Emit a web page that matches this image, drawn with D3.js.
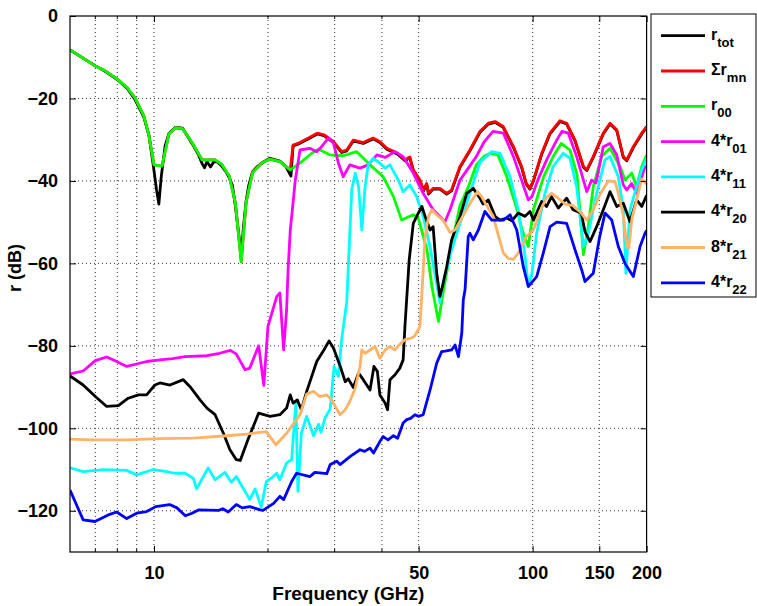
<!DOCTYPE html>
<html>
<head>
<meta charset="utf-8">
<script src="https://d3js.org/d3.v7.min.js"></script>
<style>
  body { margin: 0; background: #fff; }
  svg text { font-family: "Liberation Sans", Arial, Helvetica, sans-serif; font-weight: bold; fill: #000; }
</style>
</head>
<body>
<script>

// Axis ticks and grid positions (GHz / dB)
const freqTicks = [10, 50, 100, 150, 200];
const minorFreqs = [7, 8, 9, 20, 30, 40];
const gridFreqs = [7, 8, 9, 10, 20, 30, 40, 50, 100, 150];
const dbTicks = [0, -20, -40, -60, -80, -100, -120];

// Legend labels: main text + subscript
const labelMain = ["r", "\u03A3r", "r", "4*r", "4*r", "4*r", "8*r", "4*r"];
const labelSub  = ["tot", "mn", "00", "01", "11", "20", "21", "22"];
const colours   = ["#000000", "#ff0000", "#00ff00", "#ff00ff", "#00ffff", "#000000", "#ffb366", "#0000ff"];

// Series values: [frequency (GHz), r (dB)]
const rTot = [[6.0,-8.2],[7.0,-12.1],[7.43,-13.4],[8.0,-15.4],[8.5,-17.6],[8.9,-20.2],[9.4,-24.5],[9.7,-29],[9.95,-36],[10.15,-42],[10.3,-45.6],[10.45,-39],[10.7,-31.5],[10.95,-28.5],[11.4,-27],[11.9,-27.2],[12.6,-30.9],[13.1,-33.6],[13.4,-35.8],[13.6,-36.8],[13.8,-35.3],[14.1,-36.6],[14.4,-35.3],[14.7,-35.4],[15.1,-36.4],[15.5,-37.8],[15.8,-39.2],[16.1,-41],[16.4,-46],[16.8,-54],[17.0,-58.5],[17.2,-52],[17.5,-45],[17.8,-41],[18.2,-37.8],[18.7,-36.6],[19.3,-35.6],[20.25,-34.5],[21.5,-35.2],[22.3,-36.5],[23.0,-38.8],[23.3,-31.5],[24.0,-31.1],[25.6,-29.8],[27.0,-28.6],[28.1,-29],[29.8,-30.7],[31.3,-33.1],[32.3,-32.7],[33.6,-30.3],[35.7,-30.9],[37.9,-29.8],[39.5,-30.7],[41.2,-32.3],[44.0,-33.5],[46.0,-35.1],[47.4,-34.4],[48.4,-37.5],[50.4,-40],[51.5,-42.4],[52.5,-40.8],[53.1,-43.2],[54.6,-42],[56.9,-42],[59.3,-43.2],[61.1,-42.4],[64.3,-36.7],[68.3,-32.7],[72.6,-28.2],[76.4,-26.2],[79.6,-25.8],[83.6,-27],[89.0,-31.9],[93.5,-36.7],[96.2,-40.8],[98.4,-42],[100.5,-40],[105.7,-33.5],[111.1,-28.6],[118.1,-25.6],[123,-26.2],[129.4,-30.3],[136.2,-36.7],[139.0,-37.5],[144.6,-34.3],[153.7,-28.6],[160.1,-26.2],[166.8,-27.8],[173.6,-34.3],[177.3,-35.1],[184.5,-31.9],[194.2,-28.6],[200,-27]];

const sigmaR = [[6.0,-8.2],[7.0,-12.1],[7.43,-13.3],[8.0,-15.3],[8.5,-17.4],[8.9,-19.8],[9.4,-24.2],[9.7,-29.1],[10.0,-36.1],[10.5,-36.4],[10.95,-28.6],[11.4,-27.1],[11.9,-27.3],[12.6,-30.7],[13.4,-34.9],[14.5,-34.9],[15.1,-36.0],[15.8,-38.8],[16.4,-45.3],[17.0,-59.6],[17.5,-45.3],[18.2,-38.0],[19.3,-35.6],[20.25,-34.7],[21.5,-35.3],[22.9,-37.3],[23.3,-31.3],[24.0,-30.9],[25.6,-29.6],[27.0,-28.4],[28.1,-28.8],[29.8,-30.5],[31.3,-32.9],[32.3,-32.5],[33.6,-30.1],[35.7,-30.7],[37.9,-29.6],[39.5,-30.5],[41.2,-32.1],[44.0,-33.3],[46.0,-34.9],[47.4,-34.2],[48.4,-37.3],[50.4,-39.8],[51.5,-42.2],[52.5,-40.6],[53.1,-43.0],[54.6,-41.8],[56.9,-41.8],[59.3,-43.0],[61.1,-42.2],[64.3,-36.5],[68.3,-32.5],[72.6,-28.0],[76.4,-26.0],[79.6,-25.6],[83.6,-26.8],[89.0,-31.7],[93.5,-36.5],[96.2,-40.6],[98.4,-41.8],[100.5,-39.8],[105.7,-33.3],[111.1,-28.4],[118.1,-25.4],[123,-26.0],[129.4,-30.1],[136.2,-36.5],[139.0,-37.3],[144.6,-34.1],[153.7,-28.4],[160.1,-26.0],[166.8,-27.6],[173.6,-34.1],[177.3,-34.9],[184.5,-31.7],[194.2,-28.4],[200,-26.8]];

const r00 = [[6.0,-8.2],[7.0,-12.1],[7.43,-13.3],[8.0,-15.3],[8.5,-17.4],[8.9,-19.8],[9.4,-24.2],[9.7,-29.1],[10.0,-36.1],[10.5,-36.4],[10.95,-28.6],[11.4,-27.1],[11.9,-27.3],[12.6,-30.7],[13.4,-34.9],[14.5,-34.9],[15.1,-36.0],[15.8,-38.8],[16.4,-45.3],[17.0,-59.6],[17.5,-45.3],[18.2,-38.0],[19.3,-35.6],[20.25,-34.7],[21.5,-35.3],[22.9,-37.3],[24.3,-35.7],[26.1,-33.3],[27.2,-32.3],[29.2,-33.7],[31.6,-33.9],[34.3,-32.9],[37.2,-36.1],[40.3,-39.0],[42.9,-43.8],[45.1,-49.5],[48.4,-48.2],[49.9,-49.0],[52.6,-56.7],[54.2,-65.6],[56.4,-74.1],[58.0,-67.2],[61.1,-55.5],[64.3,-46],[67.6,-41.5],[71.0,-36.1],[74.5,-34],[77.2,-33.3],[81,-33.7],[85.5,-39],[91.0,-47],[93.8,-51.9],[97.4,-55.9],[100.5,-47],[106.9,-39],[113.3,-34.1],[119,-30.9],[125.5,-32.5],[131,-38.5],[136.2,-57.9],[140.3,-51.1],[144.6,-41.4],[152.1,-34.1],[160.1,-32.1],[170.2,-36.5],[175.4,-39.8],[182.6,-38.1],[188.2,-41.4],[194.2,-36.5],[200,-33.7]];

const r01 = [[6.0,-86.8],[6.5,-86.1],[7.0,-83.6],[7.5,-82.7],[7.97,-83.8],[8.47,-85],[9.0,-84.4],[9.56,-83.8],[10.37,-83.4],[11.2,-83.1],[12.07,-82.6],[13.8,-82.4],[14.9,-81.8],[15.9,-81.1],[16.5,-82],[17.4,-85.8],[17.9,-85.4],[18.9,-80],[19.5,-89.6],[20.0,-75.3],[21.1,-68],[21.5,-67.2],[22.0,-81],[22.4,-71.3],[22.6,-61.6],[22.9,-52],[23.1,-48.7],[23.6,-40],[24.3,-32.5],[25.8,-32.1],[26.9,-32.9],[27.7,-31.7],[28.9,-29.6],[29.8,-30.9],[30.7,-35.7],[31.6,-39],[32.9,-36.1],[35,-36.9],[36.8,-36.1],[38.8,-33.7],[40.8,-34.3],[43.3,-32.9],[45.5,-34.1],[48.4,-38.1],[51.4,-43],[54.6,-47],[58.7,-49.9],[60.5,-47],[64.3,-39.8],[71,-34.1],[74.5,-30.5],[78.6,-28],[83.7,-28.4],[89,-34.1],[93.5,-39.8],[97.4,-44.6],[99.6,-43.8],[103.2,-39.8],[108.9,-34.9],[115.8,-30.1],[119.5,-28],[124.2,-28.4],[130.7,-34.1],[136.2,-39.8],[139,-42.6],[143.2,-39.8],[147,-40.5],[153.7,-31.7],[160.1,-30.9],[166.8,-33.7],[173.6,-41],[177.3,-42.2],[182.6,-40.6],[188.2,-43],[194.2,-39],[198.1,-36.5],[200,-37]];

const r11 = [[6.0,-109.6],[6.5,-110.5],[7.35,-110],[8.47,-110.2],[9.0,-111.3],[9.96,-110],[10.8,-110.5],[11.36,-110.9],[12.07,-110.9],[12.7,-112.1],[12.96,-114.7],[13.9,-109.6],[14.5,-112.5],[15.4,-110.7],[16.0,-113.1],[16.5,-111.7],[17.9,-117.3],[18.5,-114.7],[19.2,-119.1],[19.8,-112.9],[20.4,-112.1],[21.1,-110.9],[21.5,-112.5],[22.4,-108.4],[23.1,-107.6],[23.3,-102.8],[23.7,-93.9],[24.0,-115.3],[24.5,-101.2],[25.3,-97.1],[26.4,-101.8],[27.2,-99],[27.6,-101],[28.3,-97.5],[29.2,-95.3],[29.9,-85],[30.7,-87.4],[31.3,-78.5],[32.3,-69.2],[32.6,-60.8],[33.3,-42],[34.0,-38.1],[34.7,-41.4],[35.4,-51.9],[36.1,-41.4],[36.8,-36.1],[37.9,-34.5],[39.5,-35.7],[40.8,-36.9],[42,-36.1],[44.2,-39.8],[45.5,-42.6],[47.4,-41],[49.4,-43.8],[51.4,-48.6],[53.6,-56],[55.8,-65],[56.9,-69.5],[58.0,-64.8],[61.1,-56.7],[64.3,-50.3],[68.3,-43],[72.6,-35.5],[78,-32.9],[82,-33.3],[87.2,-39],[91.6,-47],[95.5,-58.3],[97.4,-65.6],[99.6,-62.4],[102.5,-52.7],[107.8,-43],[113.3,-36.5],[120.4,-33.3],[125.5,-34.5],[130.7,-41.4],[136.2,-55.9],[140.3,-52.7],[147.6,-43],[155.3,-34.9],[160.1,-34.1],[168.4,-39],[173.6,-47],[176.4,-62.4],[180.8,-47],[188.2,-41.4],[194.2,-37.3],[200,-34.5]];

const r20 = [[6.0,-87.3],[6.5,-89.5],[7.0,-92.3],[7.5,-94.7],[8.05,-94.5],[8.55,-92.7],[9.1,-91.9],[9.56,-91.9],[10.06,-89.5],[10.37,-89],[11.02,-89.5],[11.95,-88.2],[12.45,-89.9],[13.23,-93.1],[13.8,-95.1],[14.5,-96.7],[15.25,-101.2],[15.87,-105.2],[16.5,-107.6],[16.9,-107.8],[17.7,-102.8],[18.9,-96.3],[20.25,-97.1],[21.5,-96.7],[22.4,-95.1],[22.9,-91.9],[23.3,-93.9],[23.9,-93.1],[24.5,-95.5],[25.3,-91.1],[26.9,-83.8],[28.1,-81],[29.0,-78.8],[29.8,-80.6],[31,-84.8],[32,-88.7],[32.6,-88],[33.6,-90.1],[34.7,-86.6],[35.7,-88.2],[37.2,-90.7],[38.1,-85],[38.9,-86.2],[39.5,-91.9],[40.8,-93.9],[41.4,-95.5],[42,-88.2],[43.3,-87],[44.6,-85.4],[45.5,-83.4],[46,-75.3],[47.2,-59.2],[48.4,-50.3],[49.9,-47.8],[51,-46.2],[52,-48.6],[53.6,-51.9],[54.6,-51.1],[55.8,-62.4],[56.9,-68],[57.8,-65.6],[59.3,-60.8],[61.1,-54.3],[64.3,-48.6],[67,-43],[69.7,-41.8],[72.6,-44.2],[74,-45.6],[76.4,-44.6],[79.6,-48.6],[82,-49.5],[85.5,-49],[88.1,-49.7],[91.6,-47.8],[95.5,-48.6],[98.4,-47.4],[100.5,-49.5],[105.7,-45],[108.9,-46.2],[112.2,-43.8],[116.9,-46.6],[123,-44.2],[127.9,-47],[134.4,-47.8],[137.5,-52.3],[141.8,-54.7],[147.6,-51.1],[153.7,-47],[160.1,-42.6],[166.8,-46.2],[173.6,-45.4],[180.8,-49.9],[188.2,-44.6],[194.2,-46.2],[200,-43.5]];

const r21 = [[6.0,-102.6],[6.9,-102.8],[8.47,-102.8],[10.37,-102.5],[12.7,-102.4],[15.6,-101.8],[17.6,-101.4],[19.05,-101],[19.8,-100.8],[21,-104],[22.4,-101.2],[23.8,-97.9],[24.3,-96.7],[25.3,-91.7],[26.4,-91],[27.4,-92.3],[28.6,-91.9],[29.4,-93],[31,-96.7],[32,-95.5],[32.9,-93.5],[34,-90.3],[35,-85],[35.4,-81],[36.1,-81.8],[37.2,-81],[38.4,-80.2],[39.5,-83],[40.8,-81],[42,-80.2],[43.3,-81],[44.6,-79.6],[46,-78.5],[47.9,-78.1],[48.9,-77.5],[50.4,-75.3],[51,-67.2],[52,-53.5],[53.1,-48.6],[54.2,-47],[55.8,-48.2],[58,-49.5],[60.5,-52.5],[62.4,-51.9],[65,-49],[68.3,-45.5],[71.5,-42.6],[73.3,-43.8],[75.4,-45.8],[78.6,-48.5],[81.1,-53],[83.7,-57.5],[86.3,-58.8],[89,-59],[91.6,-57.5],[93.5,-55.9],[96.2,-53.5],[100.5,-51.9],[104.6,-47.4],[108.9,-44],[112.2,-43],[116.9,-44.2],[121.8,-45.6],[127.9,-46],[134.4,-47.8],[139,-49.5],[144.6,-47],[150.6,-43.3],[158.4,-40],[165.1,-40.2],[168.4,-43],[173.6,-48.5],[177.3,-55.9],[179.5,-56.3],[183,-49],[188.2,-44.6],[194.2,-39.5],[200,-40.8]];

const r22 = [[6.0,-115],[6.5,-122.2],[6.98,-122.6],[7.57,-121],[7.97,-120.3],[8.47,-121.9],[9.0,-120.6],[9.56,-120.2],[10.1,-119],[11.0,-118.5],[11.5,-119.3],[12.1,-121.2],[12.6,-120.6],[13.1,-119.8],[14.8,-119.9],[15.2,-119.5],[15.7,-120.3],[16.5,-118.5],[17.1,-119.3],[17.9,-119],[19.1,-119.8],[19.4,-119.9],[20.7,-118.2],[21.5,-116.5],[22.0,-117.3],[23.1,-112.9],[23.8,-110.9],[25.8,-111.7],[26.6,-110.7],[28.6,-111],[29.2,-108.8],[30.4,-108],[31,-108.8],[33,-106.8],[35,-105.2],[36,-105.6],[37.2,-104.8],[38,-106],[39.5,-103.2],[40.3,-102],[41.5,-102.8],[42.9,-101.8],[44,-102.4],[45.5,-98.7],[46.5,-97.9],[47.6,-97.6],[48.9,-96.7],[49.9,-97.1],[51.4,-96.7],[53.6,-90.7],[55.8,-84.2],[57.5,-81.4],[58.7,-81.3],[61.1,-81],[62.4,-79.8],[63.7,-82.6],[65,-76.9],[65.6,-68.8],[66.3,-66.4],[67.6,-53.5],[68.3,-52.7],[69.7,-54.3],[71.9,-51.9],[74.8,-47.4],[78,-49.5],[83.7,-49.5],[87.2,-48.2],[90.8,-51.9],[94.5,-60.8],[97.4,-65.6],[102.5,-63.2],[106.7,-57.5],[111.2,-51.1],[115.8,-50],[123,-50.3],[129.4,-56.7],[134.8,-61.6],[137.5,-64.4],[144.6,-62.4],[150,-54],[155.3,-47.8],[161.8,-49.5],[168.4,-55.9],[175.4,-60],[184.5,-63.2],[192.2,-55.9],[198.1,-52.7],[200,-52]];

const seriesData = [rTot, sigmaR, r00, r01, r11, r20, r21, r22];

// SVG and plot geometry
const outerWidth = 757, outerHeight = 606;
const plotLeft = 70, plotTop = 16;
const plotWidth = 576.6, plotHeight = 536;

const svg = d3.select("body").append("svg")
    .attr("width", outerWidth)
    .attr("height", outerHeight);

const plot = svg.append("g")
    .attr("transform", `translate(${plotLeft}, ${plotTop})`);

// Scales
const x = d3.scaleLog().domain([6, 200]).range([0, plotWidth]);
const y = d3.scaleLinear().domain([-130, 0]).range([plotHeight, 0]);

// Dotted grid
plot.append("g").selectAll("line").data(gridFreqs).join("line")
    .attr("x1", d => x(d)).attr("x2", d => x(d))
    .attr("y1", 0).attr("y2", plotHeight)
    .attr("stroke", "#333").attr("stroke-width", 1)
    .attr("stroke-dasharray", "1,3");
plot.append("g").selectAll("line").data(dbTicks.filter(d => d !== 0)).join("line")
    .attr("x1", 0).attr("x2", plotWidth)
    .attr("y1", d => y(d)).attr("y2", d => y(d))
    .attr("stroke", "#333").attr("stroke-width", 1)
    .attr("stroke-dasharray", "1,3");

// Clip lines to the plot box
svg.append("defs").append("clipPath").attr("id", "clip")
    .append("rect").attr("width", plotWidth).attr("height", plotHeight);

const line = d3.line()
    .x(d => x(d[0]))
    .y(d => y(d[1]));

plot.append("g").attr("clip-path", "url(#clip)")
    .selectAll("path").data(seriesData).join("path")
    .attr("fill", "none")
    .attr("stroke", (d, i) => colours[i])
    .attr("stroke-width", 2.8)
    .attr("stroke-linejoin", "round")
    .attr("d", line);

// Axes (ticks point inward, box drawn separately)
const fmt = d3.format("d");
const bottomAxis = plot.append("g")
    .attr("transform", `translate(0, ${plotHeight})`)
    .call(d3.axisBottom(x).tickValues(freqTicks).tickFormat(fmt)
        .tickSizeInner(-6).tickSizeOuter(0).tickPadding(14));
const topAxis = plot.append("g")
    .call(d3.axisTop(x).tickValues(freqTicks).tickFormat("")
        .tickSizeInner(-6).tickSizeOuter(0));
const leftAxis = plot.append("g")
    .call(d3.axisLeft(y).tickValues(dbTicks).tickFormat(fmt)
        .tickSizeInner(-6).tickSizeOuter(0).tickPadding(12));
const rightAxis = plot.append("g")
    .attr("transform", `translate(${plotWidth}, 0)`)
    .call(d3.axisRight(y).tickValues(dbTicks).tickFormat("")
        .tickSizeInner(-6).tickSizeOuter(0));

[bottomAxis, topAxis, leftAxis, rightAxis].forEach(a => {
    a.select(".domain").remove();
    a.selectAll("line").attr("stroke", "#000");
    a.selectAll("text").style("font-size", "18px");
});

// Minor ticks on the log axis
plot.append("g").selectAll("line").data(minorFreqs).join("line")
    .attr("x1", d => x(d)).attr("x2", d => x(d))
    .attr("y1", plotHeight).attr("y2", plotHeight - 3)
    .attr("stroke", "#000");
plot.append("g").selectAll("line").data(minorFreqs).join("line")
    .attr("x1", d => x(d)).attr("x2", d => x(d))
    .attr("y1", 0).attr("y2", 3)
    .attr("stroke", "#000");

// Plot box
plot.append("rect")
    .attr("width", plotWidth).attr("height", plotHeight)
    .attr("fill", "none").attr("stroke", "#000").attr("stroke-width", 1.2);

// Axis labels
svg.append("text")
    .attr("x", plotLeft + plotWidth / 2 - 10).attr("y", 600)
    .attr("text-anchor", "middle")
    .style("font-size", "19px")
    .text("Frequency (GHz)");
svg.append("text")
    .attr("transform", "translate(21, 268) rotate(-90)")
    .attr("text-anchor", "middle")
    .style("font-size", "18px")
    .text("r (dB)");

// Legend
const legend = svg.append("g");
legend.append("rect")
    .attr("x", 651).attr("y", 14)
    .attr("width", 105).attr("height", 283)
    .attr("fill", "#fff").attr("stroke", "#000").attr("stroke-width", 1);

const rows = legend.selectAll("g.row").data(labelMain).join("g")
    .attr("class", "row")
    .attr("transform", (d, i) => `translate(0, ${35.7 + i * 35.3})`);
rows.append("line")
    .attr("x1", 661).attr("x2", 705)
    .attr("stroke", (d, i) => colours[i])
    .attr("stroke-width", 2.8);
const txt = rows.append("text")
    .attr("x", 711).attr("y", 4)
    .style("font-size", "16px");
txt.append("tspan").text(d => d);
txt.append("tspan")
    .attr("dy", 7)
    .style("font-size", "13px")
    .text((d, i) => labelSub[i]);

</script>
</body>
</html>
